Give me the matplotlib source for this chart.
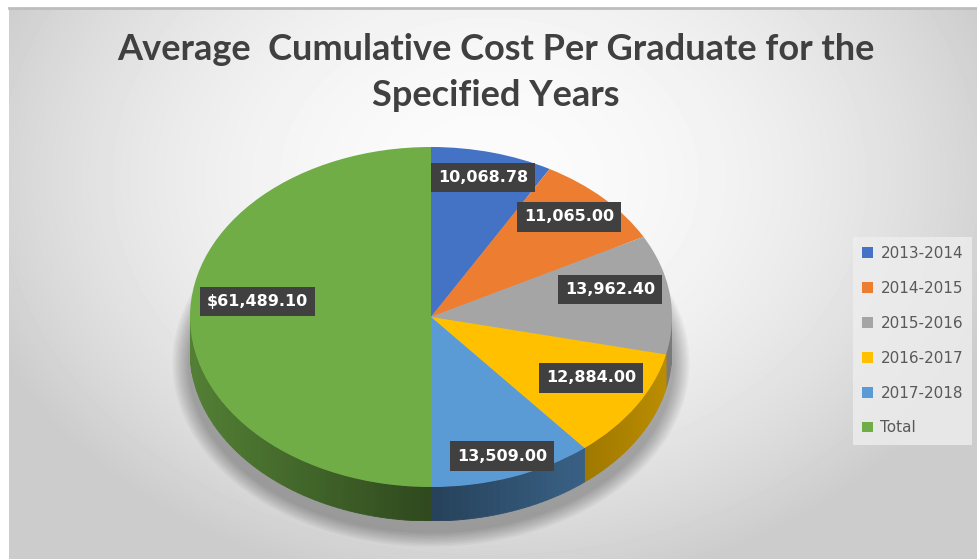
import numpy as np
import matplotlib.pyplot as plt
from matplotlib.patches import Polygon, Ellipse, Patch
from matplotlib.lines import Line2D
from matplotlib.colors import to_rgb

years = ['2013-2014', '2014-2015', '2015-2016', '2016-2017', '2017-2018', 'Total']
costs = [10068.78, 11065.00, 13962.40, 12884.00, 13509.00, 61489.10]
labels = ['10,068.78', '11,065.00', '13,962.40', '12,884.00', '13,509.00', '$61,489.10']
colors = ['#4472c4', '#ed7d31', '#a5a5a5', '#ffc000', '#5b9bd5', '#70ad47']
label_r = [0.85, 0.80, 0.75, 0.78, 0.87, 0.72]
label_dy = [0.0, 0.03, 0.06, 0.05, 0.0, 0.09]

W, H = 977, 559
fig = plt.figure(figsize=(W / 100, H / 100), dpi=100)
fig.patch.set_facecolor('white')

# background with soft radial gradient
bg = fig.add_axes([9 / W, 0, 1 - 9 / W, 1 - 8 / H])
yy, xx = np.mgrid[0:551, 0:968]
d = ((xx - 480) / 560) ** 2 + ((yy - 170) / 430) ** 2
shade = np.clip(0.985 - 0.2 * d, 0.80, 1)
bg.imshow(shade, cmap='gray', vmin=0, vmax=1, aspect='auto')
bg.axis('off')
fig.add_artist(Line2D([9 / W, 1], [1 - 8 / H, 1 - 8 / H], color='#bdbdbd', lw=2))

# pie axes (ellipse: rx=241, ry=170, depth=34 px)
cx, cy, rx, ry, depth = 431, 317, 241, 170, 34
dep = depth / ry
ax = fig.add_axes([(cx - rx) / W, (H - (cy + ry + depth)) / H, 2 * rx / W, (2 * ry + depth) / H])
wedges, _ = ax.pie(costs, colors=colors, startangle=90, counterclock=False, radius=1,
                   wedgeprops=dict(linewidth=0))
ax.set_aspect('auto')
ax.set_xlim(-1, 1)
ax.set_ylim(-1 - dep, 1)
ax.axis('off')

# shadow under the pie
for i in range(10):
    ax.add_patch(Ellipse((0.0, -dep - 0.07), 2.02 + 0.014 * i, 2.0 + 0.018 * i,
                         fc='black', ec='none', alpha=0.03, zorder=0, clip_on=False))

# visible side of the pie
for w, c in zip(wedges, colors):
    base = np.array(to_rgb(c))
    for k in (-1, 0, 1, 2):
        a = max(w.theta1 + 360 * k, 180)
        b = min(w.theta2 + 360 * k, 360)
        if b <= a:
            continue
        edges = np.linspace(a, b, max(2, int((b - a) / 1.5) + 1))
        for s, e in zip(edges[:-1], edges[1:]):
            mid = np.deg2rad((s + e) / 2)
            f = 0.42 + 0.32 * abs(np.cos(mid))
            col = base * f
            s_, e_ = np.deg2rad(s), np.deg2rad(e)
            pts = [(np.cos(s_), np.sin(s_)), (np.cos(e_), np.sin(e_)),
                   (np.cos(e_), np.sin(e_) - dep), (np.cos(s_), np.sin(s_) - dep)]
            ax.add_patch(Polygon(pts, closed=True, fc=col, ec=col, lw=0.6, zorder=0.5))

# data labels
for w, lab, r, dy in zip(wedges, labels, label_r, label_dy):
    mid = np.deg2rad((w.theta1 + w.theta2) / 2)
    ax.text(r * np.cos(mid), r * np.sin(mid) + dy, lab, ha='center', va='center',
            color='white', fontsize=11.5, fontweight='bold', zorder=5,
            bbox=dict(boxstyle='square,pad=0.45', fc='#404040', ec='none'))

# title
fig.text(496 / W, 1 - 49 / H, 'Average  Cumulative Cost Per Graduate for the', ha='center', va='center',
         fontsize=26, fontweight='bold', color='#404040', family='Lato')
fig.text(496 / W, 1 - 95 / H, 'Specified Years', ha='center', va='center',
         fontsize=26, fontweight='bold', color='#404040', family='Lato')

# legend
handles = [Patch(fc=c, ec='none') for c in colors]
leg = fig.legend(handles, years, loc='upper left', bbox_to_anchor=(853 / W, 1 - 237 / H),
                 frameon=True, fontsize=11, labelspacing=1.3, handlelength=0.7,
                 handleheight=0.7, handletextpad=0.5, borderpad=0.6, borderaxespad=0,
                 fancybox=False)
leg.get_frame().set_facecolor('#eeeeee')
leg.get_frame().set_edgecolor('none')
for t in leg.get_texts():
    t.set_color('#595959')

fig.savefig('out.png', dpi=100)
